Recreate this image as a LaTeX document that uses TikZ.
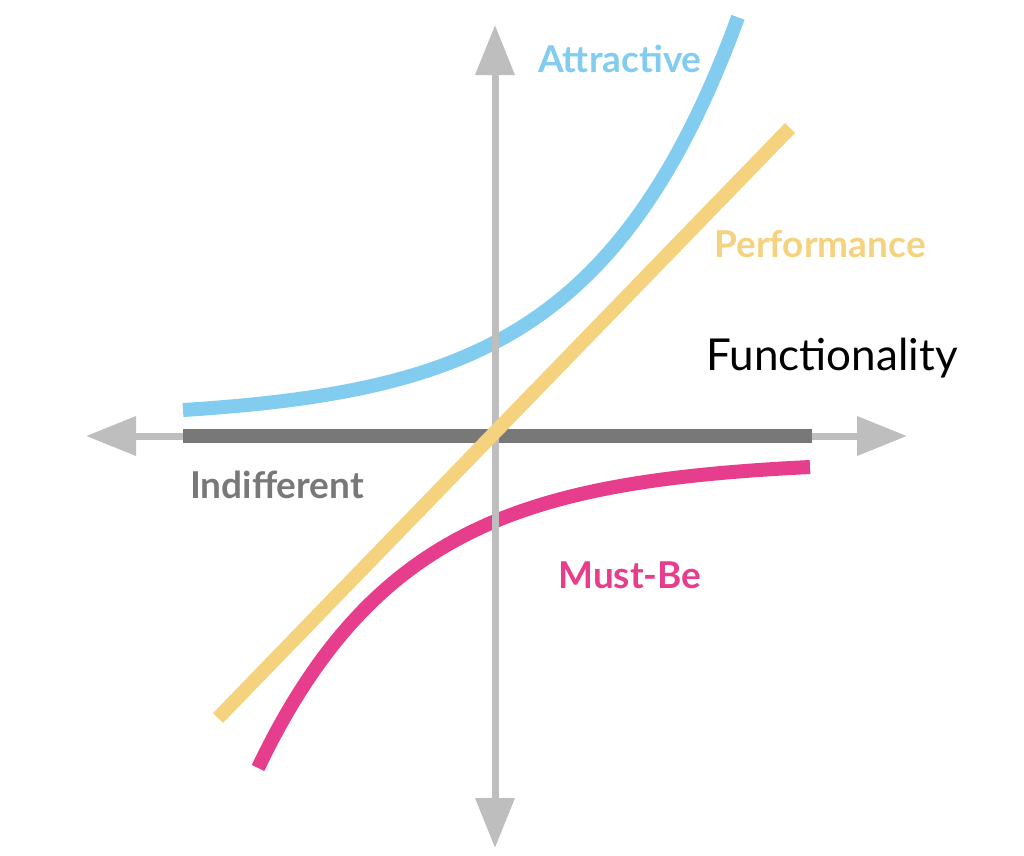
\documentclass[tikz,border=0pt]{standalone}
\usepackage{fontspec}
\setmainfont{Lato}
\usetikzlibrary{arrows.meta}
\definecolor{axisgray}{RGB}{190,190,190}
\definecolor{indiffgray}{RGB}{120,120,120}
\definecolor{attrblue}{RGB}{130,204,240}
\definecolor{perfyellow}{RGB}{245,210,125}
\definecolor{mustpink}{RGB}{230,62,140}

\begin{document}
\begin{tikzpicture}[x=1pt, y=-1pt,
  >={Triangle[length=50pt, width=38pt]},
  axis/.style={draw=axisgray, line width=7pt, <->},
  curve/.style={line width=14pt},
  lbl/.style={anchor=base, font=\fontsize{37}{40}\selectfont\bfseries}]
  \useasboundingbox (0,0) rectangle (1024,855);
  % axes
  \coordinate (west) at (86,436);
  \coordinate (east) at (907,436);
  \coordinate (north) at (495,25);
  \coordinate (south) at (495,848);
  \draw[axis] (west) -- (east);
  \draw[indiffgray, curve] (183,436) -- (812,436);
  % curves
  \draw[attrblue, curve] plot[domain=183:738, samples=80] (\x, {410 - 9.2*(exp(0.0068*(\x-183))-1)});
  \draw[mustpink, curve] plot[domain=258:810, samples=80] (\x, {467 + 7.2*(exp(0.0068*(810-\x))-1)});
  \draw[axis] (south) -- (north);
  \draw[perfyellow, curve] (218,718) -- (790,128);
  % labels
  \node[lbl, text=attrblue] (attr) at (620,72) {Attractive};
  \node[lbl, text=perfyellow] (perf) at (820,257) {Performance};
  \node[anchor=base, font=\fontsize{44}{46}\selectfont] (func) at (832,370) {Functionality};
  \node[lbl, text=indiffgray] (indiff) at (277,498) {Indifferent};
  \node[lbl, text=mustpink] (must) at (630,588) {Must-Be};
\end{tikzpicture}
\end{document}
